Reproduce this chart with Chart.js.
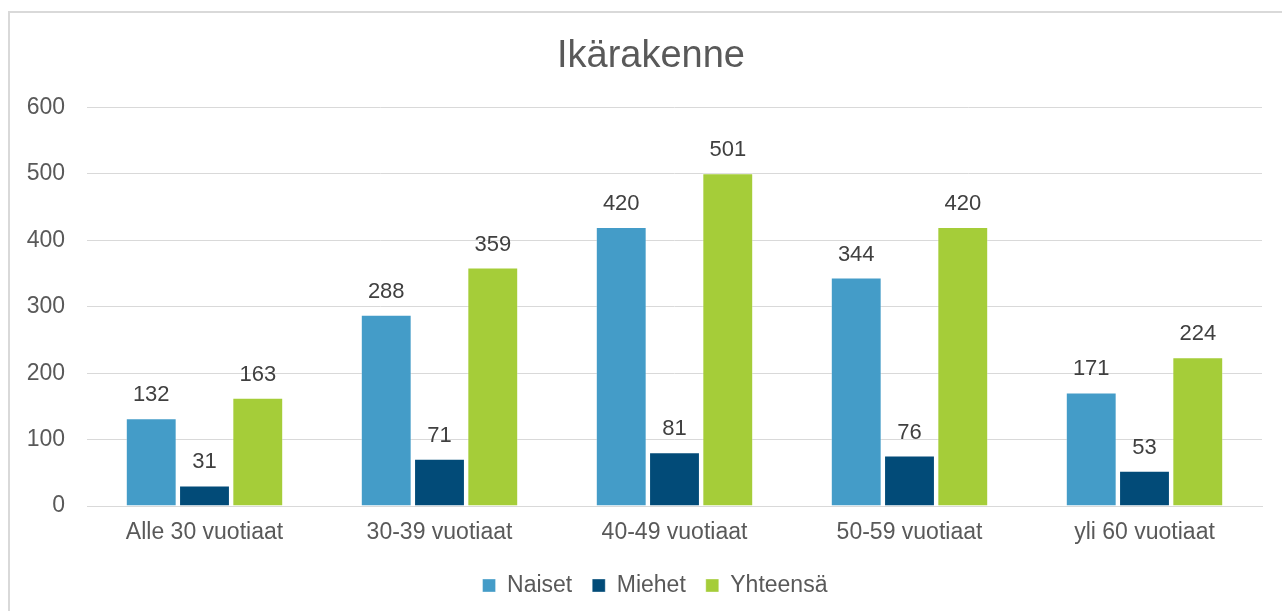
<!DOCTYPE html>
<html>
<head>
<meta charset="utf-8">
<script src="https://cdn.jsdelivr.net/npm/chart.js@4.4.0/dist/chart.umd.min.js"></script>
<style>
    html, body { margin: 0; padding: 0; background: #fff; }
    #wrap { position: relative; width: 1282px; height: 611px; }
    #frame {
        position: absolute; left: 8px; top: 11px; right: -4px; bottom: -4px;
        border-left: 2px solid #d9d9d9; border-top: 2px solid #d9d9d9;
    }
    #chart { position: absolute; left: 0; top: 0; }
</style>
</head>
<body>
<div id="wrap">
    <div id="frame"></div>
    <canvas id="chart" width="1282" height="611"></canvas>
</div>
<script>
// chart data
const categories = ['Alle 30 vuotiaat', '30-39 vuotiaat', '40-49 vuotiaat', '50-59 vuotiaat', 'yli 60 vuotiaat'];
const naiset = [132, 288, 420, 344, 171];
const miehet = [31, 71, 81, 76, 53];
const yhteensa = [163, 359, 501, 420, 224];
const yTicks = [0, 100, 200, 300, 400, 500, 600];

const FONT = "'Liberation Sans', Arial, sans-serif";
const TEXT_GRAY = '#595959';

// draws the value above each bar
const valueLabels = {
    id: 'valueLabels',
    afterDatasetsDraw(chart) {
        const ctx = chart.ctx;
        ctx.save();
        ctx.font = '22px ' + FONT;
        ctx.fillStyle = '#404040';
        ctx.textAlign = 'center';
        ctx.textBaseline = 'alphabetic';
        chart.data.datasets.forEach((ds, i) => {
            const meta = chart.getDatasetMeta(i);
            meta.data.forEach((bar, j) => {
                ctx.fillText(ds.data[j], bar.x, bar.y - 17);
            });
        });
        ctx.restore();
    }
};

// title and legend are centred a bit to the right of the canvas middle
const shiftBlocks = {
    id: 'shiftBlocks',
    afterLayout(chart) {
        if (chart.titleBlock) chart.titleBlock.left += 40;
        if (chart.legend) chart.legend.left += 48;
    }
};

const ctx = document.getElementById('chart').getContext('2d');
new Chart(ctx, {
    type: 'bar',
    data: {
        labels: categories,
        datasets: [
            { label: 'Naiset', data: naiset, backgroundColor: '#449cc8', borderColor: 'rgba(255,255,255,0.35)', borderWidth: 1 },
            { label: 'Miehet', data: miehet, backgroundColor: '#024b78', borderColor: 'rgba(255,255,255,0.35)', borderWidth: 1 },
            { label: 'Yhteensä', data: yhteensa, backgroundColor: '#a5cd39', borderColor: 'rgba(255,255,255,0.35)', borderWidth: 1 }
        ]
    },
    options: {
        responsive: false,
        animation: false,
        categoryPercentage: 0.68,
        barPercentage: 0.955,
        layout: { padding: { left: 0, right: 20, top: 0, bottom: 4 } },
        plugins: {
            title: {
                display: true,
                text: 'Ikärakenne',
                color: TEXT_GRAY,
                font: { family: FONT, size: 38, weight: 'normal' },
                padding: { top: 34, bottom: 28 }
            },
            legend: {
                position: 'bottom',
                labels: {
                    color: TEXT_GRAY,
                    font: { family: FONT, size: 23 },
                    boxWidth: 13,
                    boxHeight: 13,
                    padding: 20
                }
            },
            tooltip: { enabled: false }
        },
        scales: {
            x: {
                grid: { display: false, drawTicks: false },
                border: { display: true, color: '#d9d9d9', width: 1 },
                ticks: { color: TEXT_GRAY, font: { family: FONT, size: 23 }, padding: 13, maxRotation: 0 },
                afterFit(scale) { scale.height = 48; }
            },
            y: {
                min: 0,
                max: 600,
                afterBuildTicks(scale) { scale.ticks = yTicks.map(v => ({ value: v })); },
                grid: { color: '#d9d9d9', lineWidth: 1, drawTicks: false },
                border: { display: false },
                ticks: { color: TEXT_GRAY, font: { family: FONT, size: 23 }, padding: 22 },
                afterFit(scale) { scale.width = 87; }
            }
        }
    },
    plugins: [valueLabels, shiftBlocks]
});
</script>
</body>
</html>
